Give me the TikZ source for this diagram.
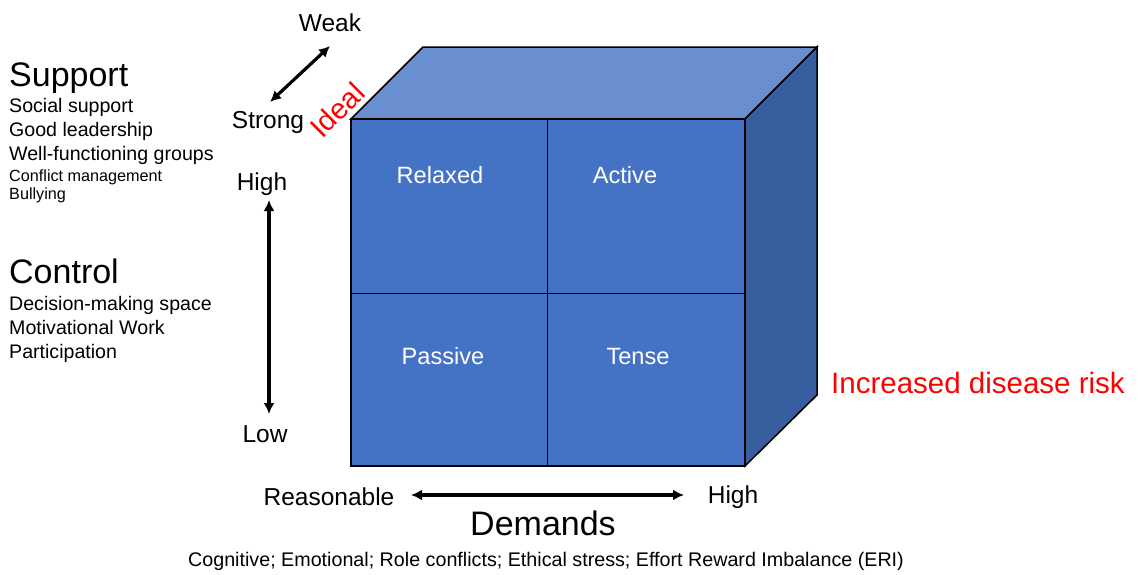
\documentclass[tikz,border=0pt]{standalone}
\usepackage{fontspec}
\setmainfont{Liberation Sans}
\usetikzlibrary{arrows.meta}
\definecolor{frontc}{HTML}{4472C4}
\definecolor{topc}{HTML}{6A8FD0}
\definecolor{sidec}{HTML}{375FA0}
\definecolor{redc}{HTML}{FF0000}
\begin{document}
\begin{tikzpicture}[x=1pt,y=-1pt,
  face/.style={draw=black,line width=1.5pt,line join=miter},
  quad/.style={draw=black,line width=1pt,fill=frontc},
  qlabel/.style={text=white,font=\fontsize{23.6}{28}\selectfont,inner sep=0pt},
  axislabel/.style={font=\fontsize{24.5}{28}\selectfont,inner sep=0pt},
  biarrow/.style={{Latex[length=11pt,width=11pt]}-{Latex[length=11pt,width=11pt]},line width=3.2pt},
  head/.style={font=\fontsize{34}{40}\selectfont,inner sep=0pt,anchor=base west},
  item/.style={font=\fontsize{19.6}{23}\selectfont,inner sep=0pt,anchor=base west},
  smallitem/.style={font=\fontsize{16.2}{19}\selectfont,inner sep=0pt,anchor=base west}]
\useasboundingbox (0,0) rectangle (1138,574);
% cube coordinates
\coordinate (ftl) at (351,119);
\coordinate (ftr) at (745,119);
\coordinate (fbr) at (745,466);
\coordinate (fbl) at (351,466);
\coordinate (btl) at (423,47);
\coordinate (btr) at (817,47);
\coordinate (bbr) at (817,395);
% top and side faces
\filldraw[face,fill=topc] (ftl) -- (btl) -- (btr) -- (ftr) -- cycle;
\filldraw[face,fill=sidec] (ftr) -- (btr) -- (bbr) -- (fbr) -- cycle;
% quadrants
\node[quad,minimum width=196pt,minimum height=174pt,anchor=north west,inner sep=0pt] (q1) at (351,119) {};
\node[quad,minimum width=198pt,minimum height=174pt,anchor=north west,inner sep=0pt] (q2) at (547,119) {};
\node[quad,minimum width=196pt,minimum height=173pt,anchor=north west,inner sep=0pt] (q3) at (351,293) {};
\node[quad,minimum width=198pt,minimum height=173pt,anchor=north west,inner sep=0pt] (q4) at (547,293) {};
\draw[face] (ftl) rectangle (fbr);
\node[qlabel] (relaxed) at (440,175) {Relaxed};
\node[qlabel] (active) at (625,175) {Active};
\node[qlabel] (passive) at (443,356) {Passive};
\node[qlabel] (tense) at (638,356) {Tense};
% axis labels
\node[axislabel] (weak) at (330,23) {Weak};
\node[axislabel] (strong) at (268,122) {Strong};
\node[axislabel] (high1) at (262,184) {High};
\node[axislabel] (low) at (265,434) {Low};
\node[axislabel] (reason) at (329,497) {Reasonable};
\node[axislabel] (high2) at (733,497) {High};
\node[font=\fontsize{34}{40}\selectfont,inner sep=0pt] (demands) at (543,523) {Demands};
\node[font=\fontsize{19.7}{23}\selectfont,inner sep=0pt] (dlist) at (546,561) {Cognitive; Emotional; Role conflicts; Ethical stress; Effort Reward Imbalance (ERI)};
\node[text=redc,font=\fontsize{29.5}{34}\selectfont,inner sep=0pt,anchor=west] (risk) at (831,383) {Increased disease risk};
\node[text=redc,font=\fontsize{29}{34}\selectfont,inner sep=0pt,rotate=45] (ideal) at (337,110) {Ideal};
% arrows
\coordinate (a1s) at (270,102);
\coordinate (a1e) at (330,46);
\draw[biarrow] (a1s) -- (a1e);
\coordinate (a2s) at (269,200);
\coordinate (a2e) at (269,414);
\draw[biarrow] (a2s) -- (a2e);
\coordinate (a3s) at (411,495);
\coordinate (a3e) at (684,495);
\draw[biarrow] (a3s) -- (a3e);
% left text
\node[head] (support) at (9,86) {Support};
\node[item] (s1) at (9,112) {Social support};
\node[item] (s2) at (9,136) {Good leadership};
\node[item] (s3) at (9,160) {Well-functioning groups};
\node[smallitem] (s4) at (9,181) {Conflict management};
\node[smallitem] (s5) at (9,199) {Bullying};
\node[head] (control) at (9,283) {Control};
\node[item] (c1) at (9,310) {Decision-making space};
\node[item] (c2) at (9,334) {Motivational Work};
\node[item] (c3) at (9,358) {Participation};
\end{tikzpicture}
\end{document}
